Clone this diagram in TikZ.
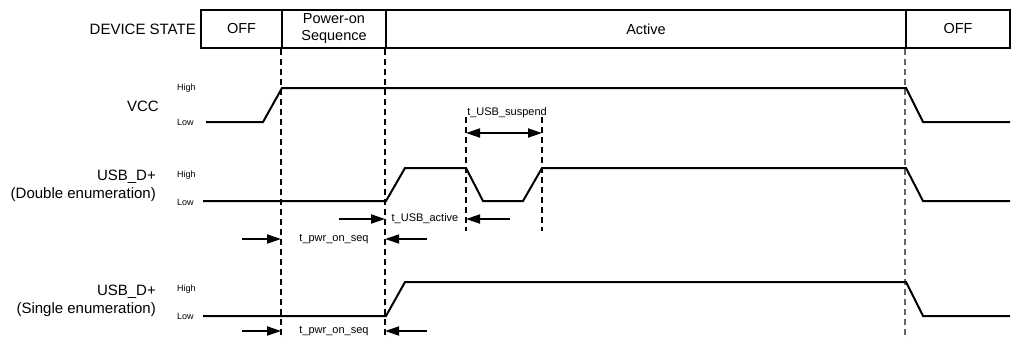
\documentclass[tikz,border=0pt]{standalone}
\usepackage{fontspec}
\setmainfont{Liberation Sans}
\usetikzlibrary{arrows.meta}

\begin{document}
\begin{tikzpicture}[x=1pt,y=-1pt,
  sig/.style={line width=2pt,line join=miter},
  cell/.style={draw,line width=1.8pt,minimum height=38pt,inner sep=0pt,align=center,font=\fontsize{14.5}{17}\selectfont},
  guide/.style={line width=1.7pt,dash pattern=on 6pt off 4pt},
  sname/.style={anchor=east,inner sep=0pt,align=right,font=\fontsize{15}{18}\selectfont},
  lvl/.style={anchor=west,inner sep=0pt,font=\fontsize{9}{10}\selectfont},
  tlabel/.style={inner sep=1pt,font=\fontsize{11}{12}\selectfont},
  tarr/.style={line width=1.8pt,-{Triangle[length=14pt,width=9pt]}}]
\useasboundingbox (0,0) rectangle (1014,338);

% device state row
\node[sname] (dev) at (196,29) {DEVICE STATE};
\node[cell,minimum width=81pt] (off1) at (241.5,29) {OFF};
\node[cell,minimum width=104pt] (pwr) at (334,29) {Power-on\\Sequence};
\node[cell,minimum width=520pt] (act) at (646,29) {Active};
\node[cell,minimum width=104pt] (off2) at (958,29) {OFF};

\draw[guide] (pwr.south west) -- ++(0,290);
\draw[guide] (act.south west) -- ++(0,290);
\draw[guide,line width=1.3pt,black!60] (off2.south west) -- ++(0,290);

% signal names
\node[sname] (vcc) at (159,106) {VCC};
\node[sname] (dbl) at (156,186) {USB\_D+\\(Double enumeration)};
\node[sname] (sgl) at (156,301) {USB\_D+\\(Single enumeration)};
\foreach \hy/\ly in {88/122,175/202,289/316}{
  \node[lvl] at (177,\hy) {High};
  \node[lvl] at (177,\ly) {Low};
}

% waveforms
\draw[sig] (206,122) -- (263,122) -- (282,88) -- (906,88) -- (923,122) -- (1010,122);
\draw[sig] (203,201) -- (386,201) -- (405,168) -- (466,168) -- (483,201) -- (523,201)
  -- (542,168) -- (906,168) -- (923,201) -- (1010,201);
\draw[sig] (203,316) -- (386,316) -- (405,282) -- (906,282) -- (923,316) -- (1010,316);

% suspend window
\node[tlabel] (susp) at (507,113) {t\_USB\_suspend};
\coordinate (sa) at (466,133);
\coordinate (sb) at (542,133);
\draw[guide] (466,117) -- (466,231);
\draw[guide] (542,117) -- (542,231);
\draw[line width=1.8pt,{Triangle[length=14pt,width=9pt]}-{Triangle[length=14pt,width=9pt]}] (sa) -- (sb);

% timing arrows
\node[tlabel] (usbact) at (425,219) {t\_USB\_active};
\draw[tarr] ([xshift=-46pt]usbact -| act.south west) -- (usbact -| act.south west);
\draw[tarr] ([xshift=44pt]usbact -| sa) -- (usbact -| sa);

\foreach \n/\yy in {seqa/239,seqb/331}{
  \node[tlabel] (\n) at (334,\yy) {t\_pwr\_on\_seq};
  \draw[tarr] ([xshift=-39pt]\n -| pwr.south west) -- (\n -| pwr.south west);
  \draw[tarr] ([xshift=42pt]\n -| act.south west) -- (\n -| act.south west);
}
\end{tikzpicture}
\end{document}
